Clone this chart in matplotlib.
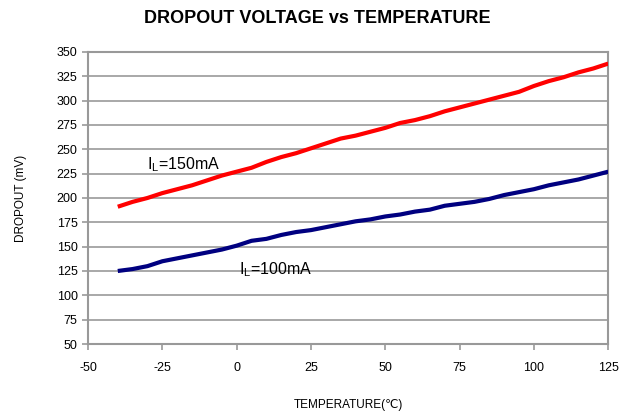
import matplotlib
matplotlib.use("Agg")
import matplotlib.pyplot as plt

plt.rcParams['font.family'] = ['Liberation Sans', 'DejaVu Sans']

temps = [-40, -35, -30, -25, -20, -15, -10, -5, 0, 5, 10, 15, 20, 25, 30, 35, 40,
         45, 50, 55, 60, 65, 70, 75, 80, 85, 90, 95, 100, 105, 110, 115, 120, 125]
dropout_150 = [191, 196, 200, 205, 209, 213, 218, 223, 227, 231, 237, 242, 246, 251,
               256, 261, 264, 268, 272, 277, 280, 284, 289, 293, 297, 301, 305, 309,
               315, 320, 324, 329, 333, 338]
dropout_100 = [125, 127, 130, 135, 138, 141, 144, 147, 151, 156, 158, 162, 165, 167,
               170, 173, 176, 178, 181, 183, 186, 188, 192, 194, 196, 199, 203, 206,
               209, 213, 216, 219, 223, 227]
xticks = [-50, -25, 0, 25, 50, 75, 100, 125]
yticks = list(range(50, 351, 25))

fig = plt.figure(figsize=(6.2, 4.12), dpi=100)
ax = fig.add_axes([0.142, 0.165, 0.839, 0.709])

grid_c = '#999999'
ax.plot(temps, dropout_150, color='#ff0000', lw=3, solid_capstyle='butt', zorder=3)
ax.plot(temps, dropout_100, color='#000080', lw=3, solid_capstyle='butt', zorder=3)

ax.set_xlim(-50, 125)
ax.set_ylim(50, 350)
ax.set_xticks(xticks)
ax.set_yticks(yticks)
ax.set_xticklabels([str(v) for v in xticks])
ax.yaxis.grid(True, color=grid_c, lw=1.2)
ax.set_axisbelow(True)
for s in ax.spines.values():
    s.set_color(grid_c)
    s.set_linewidth(1.5)
ax.tick_params(axis='both', direction='out', length=4, width=1.2, color=grid_c,
               labelsize=9, labelcolor='black')
ax.tick_params(axis='x', pad=9)

ax.text(-30, 234, r'I$_\mathregular{L}$=150mA', fontsize=11.5, va='center', ha='left', zorder=4)
ax.text(0.7, 126, r'I$_\mathregular{L}$=100mA', fontsize=11.5, va='center', ha='left', zorder=4)

ax.set_xlabel('TEMPERATURE(℃)', fontsize=8.5, labelpad=18)
ax.set_ylabel('DROPOUT (mV)', fontsize=8.5, labelpad=21)

fig.text(0.512, 0.956, 'DROPOUT VOLTAGE vs TEMPERATURE', fontsize=13,
         fontweight='bold', ha='center', va='center')

fig.savefig('out.png', dpi=100)
